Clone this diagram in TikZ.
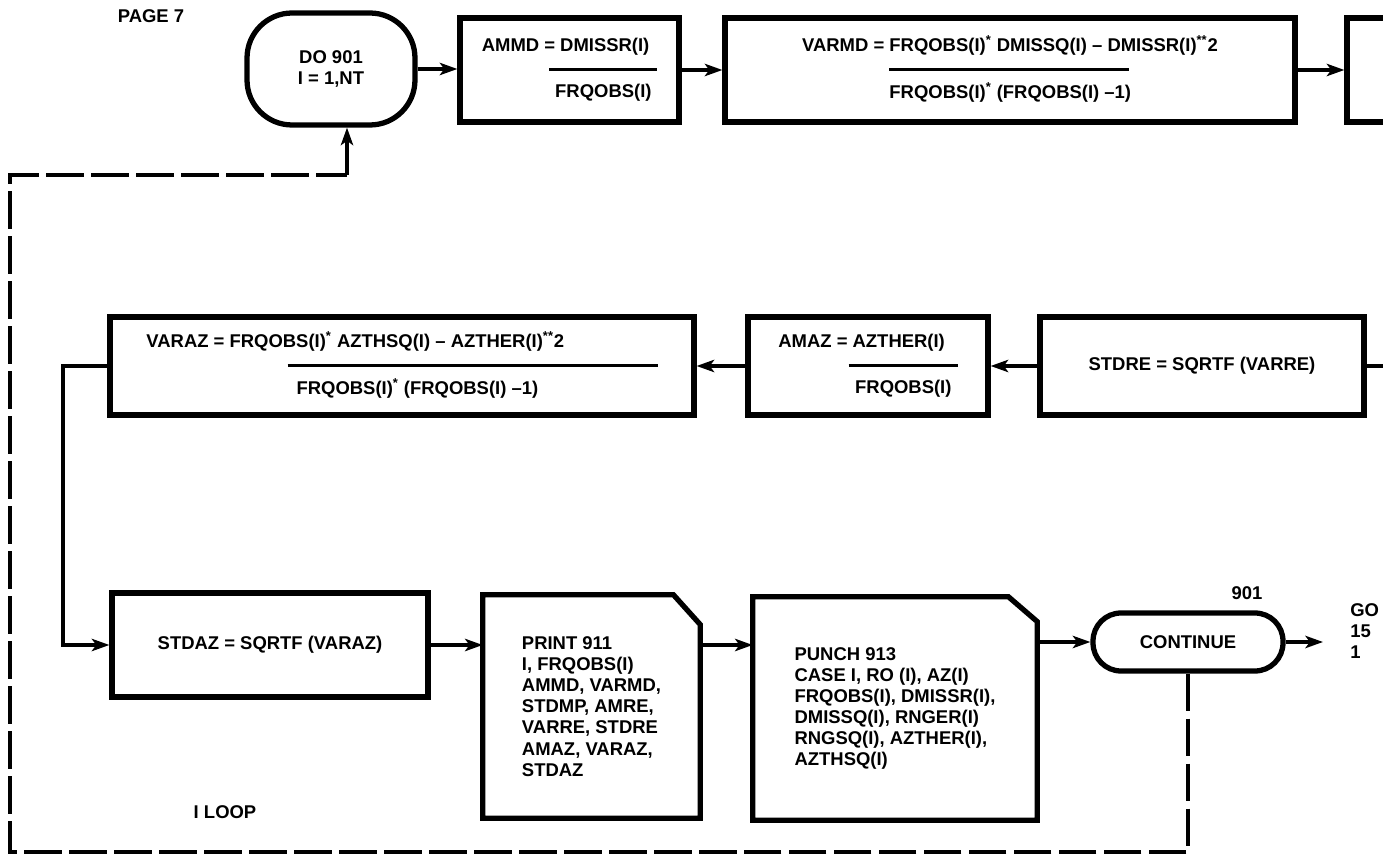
\documentclass[tikz,border=0pt]{standalone}
\usepackage{fontspec}
\setmainfont{Liberation Sans}
\usetikzlibrary{arrows.meta,calc}

\begin{document}
\begin{tikzpicture}[
    x=0.02cm, y=-0.02cm,
    every node/.style={font=\fontsize{10.5}{12}\selectfont\bfseries},
    terminal/.style={rectangle, rounded corners=0.9cm, draw=black, line width=3pt, align=center, inner sep=2pt},
    process/.style={rectangle, draw=black, line width=3pt, align=center, inner sep=2pt},
    card/.style={rectangle, align=left, inner sep=2pt},
    cardline/.style={line width=3pt, line join=miter},
    arrow/.style={line width=2pt, -{Stealth[length=10pt, width=7pt, inset=2.5pt]}},
    line/.style={line width=2pt},
    returnline/.style={line width=2.2pt, dash pattern=on 0.75cm off 0.15cm}
]
    \useasboundingbox (0,0) rectangle (1383,857);

    \node (pg) at (151,16) {PAGE 7};

    % Top row
    \node[terminal, minimum width=3.36cm, minimum height=2.24cm] (do) at (331,69) {DO 901\\I = 1,NT};
    \node[process, minimum width=4.38cm, minimum height=2.08cm] (ammd) at (569.5,70) {\begin{tabular}{@{}r@{\ }l@{}}AMMD = & DMISSR(I)\\[1pt] & \hspace*{-0.22cm}\rule[2pt]{2.16cm}{1.5pt}\\[1pt] & \hspace*{-0.1cm}FRQOBS(I)\end{tabular}};
    \node[process, minimum width=11.4cm, minimum height=2.08cm] (varmd) at (1010,70) {\begin{tabular}{@{}r@{\ }l@{}}VARMD = & FRQOBS(I)\textsuperscript{*} DMISSQ(I) -- DMISSR(I)\textsuperscript{**}2\\[1pt] & \rule[2pt]{4.8cm}{1.5pt}\\[1pt] & FRQOBS(I)\textsuperscript{*} (FRQOBS(I) --1)\end{tabular}};
    \node[process, minimum width=2.4cm, minimum height=2.08cm] (next) at (1407,70) {};

    % Middle row
    \node[process, minimum width=11.68cm, minimum height=1.96cm] (varaz) at (402,366) {\begin{tabular}{@{}r@{\ }l@{}}VARAZ = & FRQOBS(I)\textsuperscript{*} AZTHSQ(I) -- AZTHER(I)\textsuperscript{**}2\\[1pt] & \hspace*{1.16cm}\rule[2pt]{7.4cm}{1.5pt}\\[1pt] & \hspace*{1.34cm}FRQOBS(I)\textsuperscript{*} (FRQOBS(I) --1)\end{tabular}};
    \node[process, minimum width=4.8cm, minimum height=1.96cm] (amaz) at (868,366) {\begin{tabular}{@{}r@{\ }l@{}}AMAZ = & AZTHER(I)\\[1pt] & \hspace*{-0.08cm}\rule[2pt]{2.18cm}{1.5pt}\\[1pt] & \hspace*{0.05cm}FRQOBS(I)\end{tabular}};
    \node[process, minimum width=6.48cm, minimum height=1.96cm] (stdre) at (1202,366) {STDRE = SQRTF (VARRE)};

    % Bottom row
    \node[process, minimum width=6.32cm, minimum height=2.08cm] (stdaz) at (270,645) {STDAZ = SQRTF (VARAZ)};
    \node[card, minimum width=4.34cm, minimum height=4.46cm] (print) at (591.5,706.5) {PRINT 911\\I, FRQOBS(I)\\AMMD, VARMD,\\STDMP, AMRE,\\VARRE, STDRE\\AMAZ, VARAZ,\\STDAZ};
    \node[card, minimum width=5.68cm, minimum height=4.46cm] (punch) at (895,708.5) {PUNCH 913\\CASE I, RO (I), AZ(I)\\FRQOBS(I), DMISSR(I),\\DMISSQ(I), RNGER(I)\\RNGSQ(I), AZTHER(I),\\AZTHSQ(I)};
    \node[terminal, rounded corners=0.56cm, minimum width=3.8cm, minimum height=1.16cm] (cont) at (1188,642) {CONTINUE};
    \node (lbl901) at (1247,593) {901};
    \node[anchor=north west, align=left, inner sep=0pt] (gotext) at (1350,603) {GO\\15\\1};
    \node (iloop) at (225,812) {I LOOP};

    % Card outlines with cut corner
    \draw[cardline] (print.south west) -- (print.north west) -- ($(print.north east)+(-27,0)$) -- ($(print.north east)+(0,30)$) -- (print.south east) -- cycle;
    \draw[cardline] (punch.south west) -- (punch.north west) -- ($(punch.north east)+(-29,0)$) -- ($(punch.north east)+(0,25)$) -- (punch.south east) -- cycle;

    % Connectors
    \draw[arrow] (do.east) -- (do.east -| ammd.west);
    \draw[arrow] (ammd) -- (varmd);
    \draw[arrow] (varmd) -- (next);
    \draw[line] (stdre.east) -- ++(25,0);
    \draw[arrow] (stdre) -- (amaz);
    \draw[arrow] (amaz) -- (varaz);
    \coordinate (bend) at (63,366);
    \draw[arrow] (varaz.west) -- (bend) |- (stdaz.west);
    \draw[arrow] (stdaz.east) -- (stdaz.east -| print.west);
    \draw[arrow] (print.east |- stdaz.east) -- (punch.west |- stdaz.east);
    \draw[arrow] (punch.east |- cont.west) -- (cont.west);
    \coordinate (goto) at (1323,642);
    \draw[arrow] (cont.east) -- (goto);

    % I loop return
    \coordinate (lb) at (10,852);
    \coordinate (lt) at (10,175);
    \coordinate (jn) at (347,175);
    \draw[returnline] (cont.south) |- (lb) -- (lt) -- (jn);
    \draw[arrow] (jn) -- (jn |- do.south);
\end{tikzpicture}
\end{document}
